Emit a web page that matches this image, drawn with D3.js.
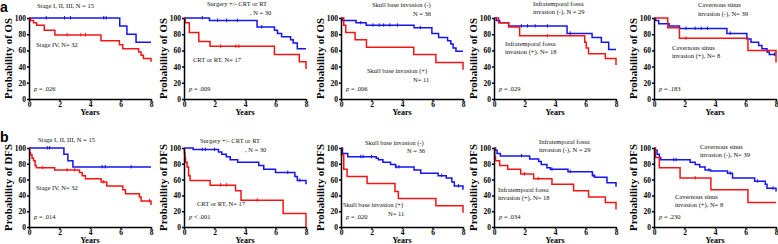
<!DOCTYPE html>
<html>
<head>
<meta charset="utf-8">
<script src="https://cdn.jsdelivr.net/npm/d3@7"></script>
<style>
  body { margin: 0; background: #fff; }
  svg { display: block; }
  .axis text { font-family: "Liberation Serif", serif; font-weight: bold; font-size: 7.5px; fill: #000; }
  .axis path, .axis line { stroke: #000; stroke-width: 1.5; }
  .note { font-family: "Liberation Serif", serif; font-size: 6.5px; fill: #111; }
  .lab { font-family: "Liberation Serif", serif; font-weight: bold; fill: #000; }
</style>
</head>
<body>
<div id="plot"></div>
<script>
const yearTicks = [0, 2, 4, 6, 8],
      pctTicks = [0, 20, 40, 60, 80, 100]

// survival steps: [time in years, % surviving from that time on]
const os1Blue = [[0,100],[5.95,90],[6.42,80],[7.02,70]],
      os1Red = [[0,100],[0.1,97],[0.3,94],[0.5,91],[1.0,85],[1.7,79],[4.72,72],[5.93,67],[6.15,62],[7.19,58],[7.35,54],[7.5,50],[8,46]],
      os2Blue = [[0,100],[1.67,97],[4.79,89],[5.93,85],[6.13,81],[6.4,77],[6.99,73],[7.16,69],[7.43,62]],
      os2Red = [[0,100],[0.08,94],[0.35,82],[0.97,71],[1.71,65],[5.93,55],[7.56,46],[8,37]],
      os3Blue = [[0,100],[0.1,97],[0.99,94],[1.65,91],[4.79,88],[5.96,81],[6.4,76],[6.99,72],[7.2,68],[7.35,63],[7.54,59]],
      os3Red = [[0,100],[0.18,91],[0.31,82],[0.92,73],[1.67,64],[4.77,55],[6.22,45],[8,36]],
      os4Blue = [[0,100],[0.15,97],[0.37,94],[0.96,90],[4.79,81],[6.43,76],[7.04,70],[7.52,61]],
      os4Red = [[0,100],[0.3,94],[0.96,89],[1.68,78],[5.95,70],[6.05,63],[6.2,56],[7.3,50],[8,42]],
      os5Blue = [[0,100],[0.1,97],[0.31,93],[0.99,90],[1.67,87],[4.78,81],[6.09,74],[6.36,70],[6.86,66],[7.08,62],[7.41,58],[7.56,55]],
      os5Red = [[0,100],[0.9,88],[1.67,75],[6.16,60],[8,45]]

const dfs1Blue = [[0,100],[2.29,92],[2.55,84],[2.88,76]],
      dfs1Red = [[0,100],[0.05,94],[0.1,91],[0.2,87],[0.3,84],[0.4,78],[0.48,75],[1.68,72],[3.31,69],[3.49,65],[3.7,61],[4.73,57],[5.1,52],[6.15,47],[6.32,42],[7.24,38],[7.35,33],[8,28]],
      dfs2Blue = [[0,100],[0.6,98],[2.26,95],[2.48,92],[2.77,89],[3.03,85],[3.52,82],[4.9,78],[5.23,73],[6.0,69],[7.27,64],[7.43,59],[8,54]],
      dfs2Red = [[0,100],[0.03,94],[0.06,88],[0.1,82],[0.2,76],[0.3,65],[0.4,59],[1.71,53],[3.38,46],[3.74,34],[6.5,17],[8,0]],
      dfs3Blue = [[0,100],[0.1,93],[0.44,89],[2.31,87],[2.45,85],[2.75,82],[3.25,79],[3.58,76],[4.79,72],[5.23,68],[6.37,65],[6.9,62],[7.27,57],[7.43,52],[8,47]],
      dfs3Red = [[0,100],[0.03,91],[0.18,73],[0.4,64],[1.71,55],[3.54,45],[3.76,36],[6.22,27],[8,18]],
      dfs4Blue = [[0,100],[0.1,97],[0.2,93],[0.42,90],[2.34,86],[2.93,83],[3.1,79],[3.47,75],[3.7,73],[4.85,70],[6.45,65],[6.6,63],[7.41,56],[8,51]],
      dfs4Red = [[0,100],[0.05,89],[0.1,84],[0.37,78],[0.9,73],[1.75,67],[2.6,61],[3.8,54],[5.22,46],[6.2,38],[7.3,31],[8,22]],
      dfs5Blue = [[0,100],[0.05,97],[0.2,92],[0.35,88],[0.44,85],[2.37,82],[2.7,79],[3.0,76],[3.35,72],[3.73,71],[4.82,68],[5.15,62],[6.6,58],[7.3,54],[7.41,49],[8,45]],
      dfs5Red = [[0,100],[0.1,88],[0.35,75],[1.71,62],[3.73,47],[6.16,31]]

// censored times (tick marks)
const cens = {
  os1Blue: [1.13,2.33,2.72,4.9,5.06], os1Red: [2.5,3.4,3.7],
  os2Blue: [1.2,2.2,2.8,3.5,5.1], os2Red: [2.4,3.4,3.6],
  os3Blue: [1.3,2.1,2.5,2.8,3.2,3.7,5.2], os3Red: [],
  os4Blue: [1.8,2.2,2.7,3.5,5.0], os4Red: [3.5],
  os5Blue: [2.1,2.7,3.1,3.5,5.0,7.9], os5Red: [2.1],
  dfs1Blue: [1.2,1.35,4.8,5.0,6.7], dfs1Red: [0.9,2.5,3.0,4.9,7.9],
  dfs2Blue: [1.2,1.4,2.0,6.8,7.6], dfs2Red: [2.4,2.8,4.8],
  dfs3Blue: [1.3,1.45,2.0,3.6,3.8,6.6,7.7], dfs3Red: [],
  dfs4Blue: [1.8,3.8,5.0,6.55], dfs4Red: [2.0,2.9],
  dfs5Blue: [1.3,1.45,3.6,5.0,6.8,7.8], dfs5Red: [2.7]
}

const rowLabels = ["a", "b"],
      rowTitles = ["Probability of OS", "Probability of DFS"],
      pValuesOS = ["p = .026", "p = .009", "p = .006", "p = .029", "p = .183"],
      pValuesDFS = ["p = .014", "p < .001", "p = .020", "p = .034", "p = .230"]

// notes: [text, x, y]
const notesOS = [
  [["Stage I, II, III, N = 15", 37, 8], ["Stage IV, N= 32", 36, 47]],
  [["Surgery +/- CRT or RT", 207, 6], [", N = 30", 250, 15], ["CRT or RT, N= 17", 193, 62]],
  [["Skull base invasion (-)", 372, 7], ["N = 36", 413, 16], ["Skull base invasion (+)", 367, 73], ["N= 11", 413, 82]],
  [["Infratemporal fossa", 533, 6], ["invasion (-), N = 29", 533, 14], ["Infratemporal fossa", 505, 46], ["invasion (+), N= 18", 505, 54]],
  [["Cavernous sinus", 698, 7], ["invasion (-), N= 39", 698, 16], ["Cavernous sinus", 672, 50], ["invasion (+), N= 8", 672, 58]]
]
const notesDFS = [
  [["Stage I, II, III, N = 15", 38, 142], ["Stage IV, N= 32", 36, 190]],
  [["Surgery +/- CRT or RT", 200, 143], [", N = 30", 245, 152], ["CRT or RT, N= 17", 197, 206]],
  [["Skull base invasion (-)", 365, 145], ["N = 36", 407, 153], ["Skull base invasion (+)", 343, 207], ["N= 11", 388, 216]],
  [["Infratemporal fossa", 539, 144], ["invasion (-), N = 29", 539, 152], ["Infratemporal fossa", 498, 192], ["invasion (+), N= 18", 498, 200]],
  [["Cavernous sinus", 700, 149], ["invasion (-), N= 39", 700, 157], ["Cavernous sinus", 675, 199], ["invasion (+), N= 8", 675, 207]]
]

const rows = [
  {top: 18, bottom: 99, curves: [["os1Blue","os1Red"],["os2Blue","os2Red"],["os3Blue","os3Red"],["os4Blue","os4Red"],["os5Blue","os5Red"]], p: pValuesOS, notes: notesOS, pY: 91, yearsY: 114.6},
  {top: 148, bottom: 227, curves: [["dfs1Blue","dfs1Red"],["dfs2Blue","dfs2Red"],["dfs3Blue","dfs3Red"],["dfs4Blue","dfs4Red"],["dfs5Blue","dfs5Red"]], p: pValuesDFS, notes: notesDFS, pY: 219, yearsY: 242.6}
]
const panelLeft = [29, 184, 341, 494, 654],
      panelW = 122

const series = {os1Blue, os1Red, os2Blue, os2Red, os3Blue, os3Red, os4Blue, os4Red, os5Blue, os5Red,
  dfs1Blue, dfs1Red, dfs2Blue, dfs2Red, dfs3Blue, dfs3Red, dfs4Blue, dfs4Red, dfs5Blue, dfs5Red}

const colors = {Blue: "#1414f5", Red: "#f51414"}

const svg = d3.select("#plot").append("svg")
  .attr("width", 778).attr("height", 244)

const valueAt = (steps, t) => {
  let v = steps[0][1]
  for (const s of steps) { if (s[0] <= t) v = s[1] }
  return v
}

rows.forEach((row, r) => {
  svg.append("text")
    .attr("x", 0).attr("y", r === 0 ? 12 : 142)
    .style("font-family", "Liberation Sans, Arial, sans-serif")
    .style("font-weight", "bold").style("font-size", "14px")
    .text(rowLabels[r])

  panelLeft.forEach((left, i) => {
    const x = d3.scaleLinear().domain([0, 8]).range([left, left + panelW]),
          y = d3.scaleLinear().domain([0, 100]).range([row.bottom, row.top])

    const g = svg.append("g")

    row.curves[i].forEach(name => {
      const steps = series[name].slice()
      if (steps[steps.length - 1][0] < 8) steps.push([8, steps[steps.length - 1][1]])
      const col = colors[name.endsWith("Blue") ? "Blue" : "Red"]
      g.append("path")
        .datum(steps)
        .attr("fill", "none")
        .attr("stroke", col)
        .attr("stroke-width", 1.5)
        .attr("d", d3.line().curve(d3.curveStepAfter)
          .x(d => x(d[0]))
          .y(d => y(d[1])))
      cens[name].forEach(t => {
        const v = valueAt(series[name], t)
        g.append("line")
          .attr("x1", x(t)).attr("x2", x(t))
          .attr("y1", y(v) - 2).attr("y2", y(v) + 1.5)
          .attr("stroke", col).attr("stroke-width", 1)
      })
    })

    svg.append("g")
      .attr("class", "axis")
      .attr("transform", `translate(0, ${row.bottom})`)
      .call(d3.axisBottom(x).tickValues(yearTicks).tickSize(2).tickSizeOuter(0).tickPadding(0.5))

    svg.append("g")
      .attr("class", "axis")
      .attr("transform", `translate(${left}, 0)`)
      .call(d3.axisLeft(y).tickValues(pctTicks).tickSize(2).tickSizeOuter(0).tickPadding(1))
      .selectAll(".tick text").attr("dy", "0.34em")

    svg.append("text")
      .attr("class", "lab")
      .attr("transform", `translate(${left - 17}, ${(row.top + row.bottom) / 2}) rotate(-90)`)
      .style("text-anchor", "middle")
      .style("font-size", "10.8px")
      .text(rowTitles[r])

    svg.append("text")
      .attr("class", "lab")
      .attr("x", x(4)).attr("y", row.yearsY)
      .style("text-anchor", "middle")
      .style("font-size", "8px")
      .text("Years")

    const p = row.p[i]
    const pt = svg.append("text")
      .attr("class", "note")
      .attr("x", left + 5).attr("y", row.pY)
    pt.append("tspan").style("font-style", "italic").text("p")
    pt.append("tspan").text(p.slice(1))

    row.notes[i].forEach(n => {
      svg.append("text")
        .attr("class", "note")
        .attr("x", n[1]).attr("y", n[2])
        .text(n[0])
    })
  })
})
</script>
</body>
</html>
